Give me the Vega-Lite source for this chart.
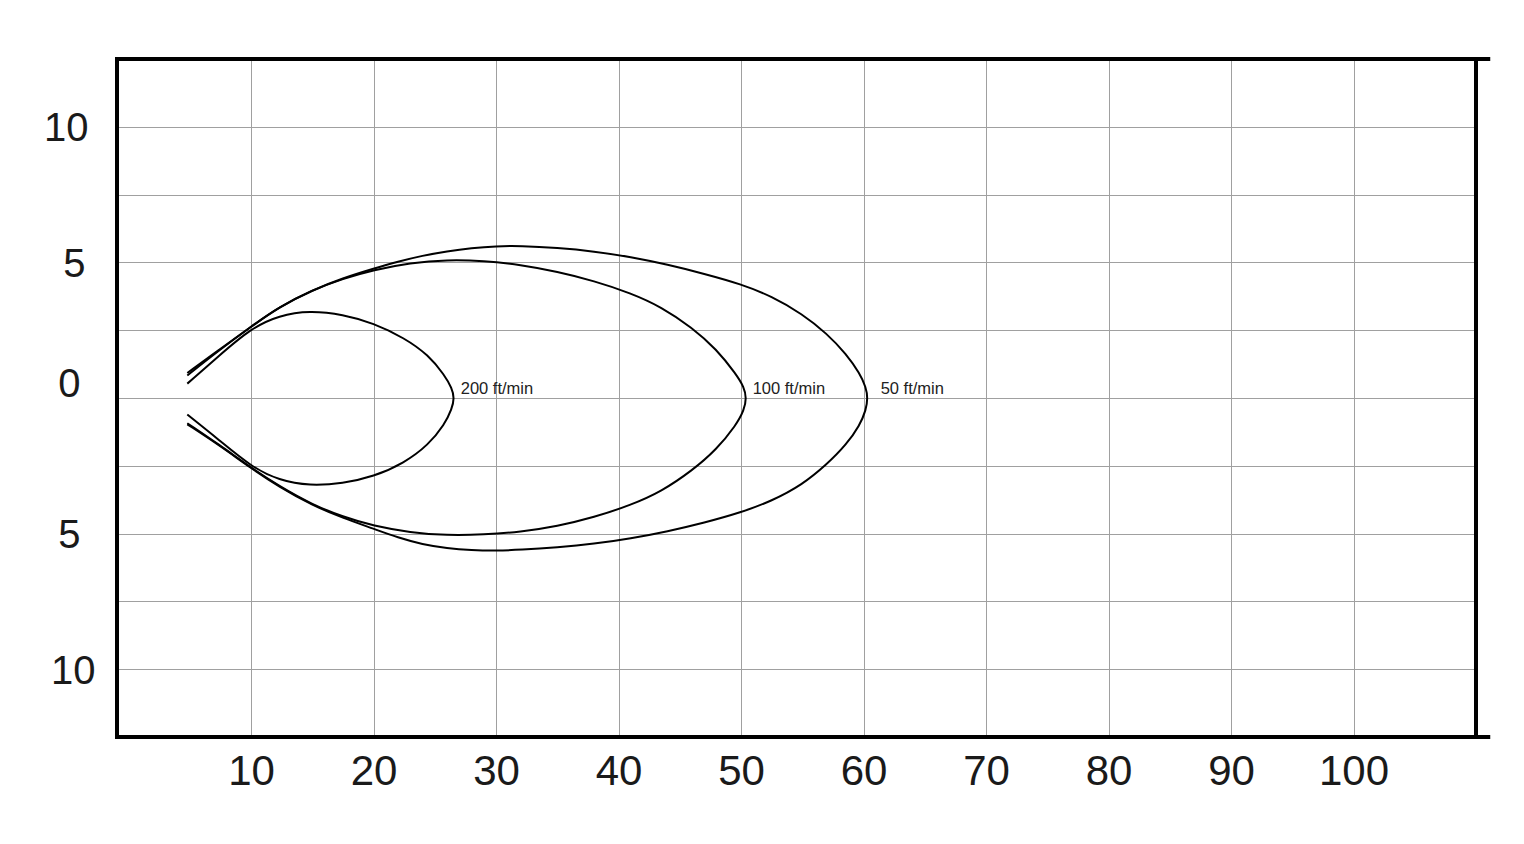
{
  "$schema": "https://vega.github.io/schema/vega-lite/v6.json",
  "width": 1359,
  "height": 678,
  "autosize": "none",
  "padding": {"left": 117, "top": 59, "right": 48, "bottom": 107},
  "background": "white",
  "config": {"view": {"stroke": null}},
  "datasets": {
    "curves": [
      {"curve": "200", "i": 0, "x": 4.8, "y": 0.53},
      {"curve": "200", "i": 1, "x": 7.4, "y": 1.56},
      {"curve": "200", "i": 2, "x": 10, "y": 2.57},
      {"curve": "200", "i": 3, "x": 12.3, "y": 3.05},
      {"curve": "200", "i": 4, "x": 14.8, "y": 3.22},
      {"curve": "200", "i": 5, "x": 17.5, "y": 3.08},
      {"curve": "200", "i": 6, "x": 20, "y": 2.76},
      {"curve": "200", "i": 7, "x": 22.5, "y": 2.22},
      {"curve": "200", "i": 8, "x": 24.5, "y": 1.58},
      {"curve": "200", "i": 9, "x": 25.8, "y": 0.84},
      {"curve": "200", "i": 10, "x": 26.4, "y": 0.36},
      {"curve": "200", "i": 11, "x": 26.6, "y": 0},
      {"curve": "200", "i": 12, "x": 26.4, "y": -0.4},
      {"curve": "200", "i": 13, "x": 25.8, "y": -0.98},
      {"curve": "200", "i": 14, "x": 24.5, "y": -1.72},
      {"curve": "200", "i": 15, "x": 22.5, "y": -2.4},
      {"curve": "200", "i": 16, "x": 20, "y": -2.9},
      {"curve": "200", "i": 17, "x": 17.5, "y": -3.15},
      {"curve": "200", "i": 18, "x": 14.8, "y": -3.24},
      {"curve": "200", "i": 19, "x": 12.3, "y": -3.04},
      {"curve": "200", "i": 20, "x": 10, "y": -2.53},
      {"curve": "200", "i": 21, "x": 7.4, "y": -1.55},
      {"curve": "200", "i": 22, "x": 4.8, "y": -0.61},

      {"curve": "100", "i": 0, "x": 4.8, "y": 0.92},
      {"curve": "100", "i": 1, "x": 7.4, "y": 1.78},
      {"curve": "100", "i": 2, "x": 10, "y": 2.63},
      {"curve": "100", "i": 3, "x": 12.3, "y": 3.36},
      {"curve": "100", "i": 4, "x": 15, "y": 3.98},
      {"curve": "100", "i": 5, "x": 17.5, "y": 4.4},
      {"curve": "100", "i": 6, "x": 20, "y": 4.72},
      {"curve": "100", "i": 7, "x": 23, "y": 4.98},
      {"curve": "100", "i": 8, "x": 26, "y": 5.1},
      {"curve": "100", "i": 9, "x": 29, "y": 5.06},
      {"curve": "100", "i": 10, "x": 32, "y": 4.91},
      {"curve": "100", "i": 11, "x": 35, "y": 4.66},
      {"curve": "100", "i": 12, "x": 38, "y": 4.32},
      {"curve": "100", "i": 13, "x": 41, "y": 3.87},
      {"curve": "100", "i": 14, "x": 43.5, "y": 3.36},
      {"curve": "100", "i": 15, "x": 46, "y": 2.6},
      {"curve": "100", "i": 16, "x": 48, "y": 1.8},
      {"curve": "100", "i": 17, "x": 49.6, "y": 0.88},
      {"curve": "100", "i": 18, "x": 50.25, "y": 0.4},
      {"curve": "100", "i": 19, "x": 50.45, "y": 0},
      {"curve": "100", "i": 20, "x": 50.25, "y": -0.45},
      {"curve": "100", "i": 21, "x": 49.6, "y": -1.0},
      {"curve": "100", "i": 22, "x": 48, "y": -1.9},
      {"curve": "100", "i": 23, "x": 46, "y": -2.68},
      {"curve": "100", "i": 24, "x": 43.5, "y": -3.45},
      {"curve": "100", "i": 25, "x": 41, "y": -3.95},
      {"curve": "100", "i": 26, "x": 38, "y": -4.4},
      {"curve": "100", "i": 27, "x": 35, "y": -4.73},
      {"curve": "100", "i": 28, "x": 32, "y": -4.94},
      {"curve": "100", "i": 29, "x": 29, "y": -5.04},
      {"curve": "100", "i": 30, "x": 26, "y": -5.07},
      {"curve": "100", "i": 31, "x": 23, "y": -4.96},
      {"curve": "100", "i": 32, "x": 20, "y": -4.72},
      {"curve": "100", "i": 33, "x": 17.5, "y": -4.38},
      {"curve": "100", "i": 34, "x": 15, "y": -3.93},
      {"curve": "100", "i": 35, "x": 12.3, "y": -3.25},
      {"curve": "100", "i": 36, "x": 10, "y": -2.57},
      {"curve": "100", "i": 37, "x": 7.4, "y": -1.72},
      {"curve": "100", "i": 38, "x": 4.8, "y": -0.93},

      {"curve": "50", "i": 0, "x": 4.8, "y": 0.83},
      {"curve": "50", "i": 1, "x": 7.4, "y": 1.76},
      {"curve": "50", "i": 2, "x": 10, "y": 2.63},
      {"curve": "50", "i": 3, "x": 12.3, "y": 3.36},
      {"curve": "50", "i": 4, "x": 15, "y": 3.98},
      {"curve": "50", "i": 5, "x": 17.5, "y": 4.42},
      {"curve": "50", "i": 6, "x": 20, "y": 4.77},
      {"curve": "50", "i": 7, "x": 22, "y": 5.03},
      {"curve": "50", "i": 8, "x": 24, "y": 5.25},
      {"curve": "50", "i": 9, "x": 26, "y": 5.41},
      {"curve": "50", "i": 10, "x": 28, "y": 5.53},
      {"curve": "50", "i": 11, "x": 30, "y": 5.6},
      {"curve": "50", "i": 12, "x": 32, "y": 5.61},
      {"curve": "50", "i": 13, "x": 35, "y": 5.54},
      {"curve": "50", "i": 14, "x": 38, "y": 5.41},
      {"curve": "50", "i": 15, "x": 41, "y": 5.2},
      {"curve": "50", "i": 16, "x": 44, "y": 4.92},
      {"curve": "50", "i": 17, "x": 47, "y": 4.58},
      {"curve": "50", "i": 18, "x": 50, "y": 4.2},
      {"curve": "50", "i": 19, "x": 52.5, "y": 3.75},
      {"curve": "50", "i": 20, "x": 55, "y": 3.1},
      {"curve": "50", "i": 21, "x": 57, "y": 2.38},
      {"curve": "50", "i": 22, "x": 58.6, "y": 1.62},
      {"curve": "50", "i": 23, "x": 59.7, "y": 0.9},
      {"curve": "50", "i": 24, "x": 60.2, "y": 0.4},
      {"curve": "50", "i": 25, "x": 60.35, "y": 0},
      {"curve": "50", "i": 26, "x": 60.2, "y": -0.45},
      {"curve": "50", "i": 27, "x": 59.7, "y": -1.0},
      {"curve": "50", "i": 28, "x": 58.6, "y": -1.72},
      {"curve": "50", "i": 29, "x": 57, "y": -2.45},
      {"curve": "50", "i": 30, "x": 55, "y": -3.2},
      {"curve": "50", "i": 31, "x": 52.5, "y": -3.8},
      {"curve": "50", "i": 32, "x": 50, "y": -4.22},
      {"curve": "50", "i": 33, "x": 47, "y": -4.6},
      {"curve": "50", "i": 34, "x": 44, "y": -4.92},
      {"curve": "50", "i": 35, "x": 41, "y": -5.18},
      {"curve": "50", "i": 36, "x": 38, "y": -5.38},
      {"curve": "50", "i": 37, "x": 35, "y": -5.51},
      {"curve": "50", "i": 38, "x": 32, "y": -5.6},
      {"curve": "50", "i": 39, "x": 30, "y": -5.63},
      {"curve": "50", "i": 40, "x": 28, "y": -5.61},
      {"curve": "50", "i": 41, "x": 26, "y": -5.54},
      {"curve": "50", "i": 42, "x": 24, "y": -5.4},
      {"curve": "50", "i": 43, "x": 22, "y": -5.15},
      {"curve": "50", "i": 44, "x": 20, "y": -4.82},
      {"curve": "50", "i": 45, "x": 17.5, "y": -4.42},
      {"curve": "50", "i": 46, "x": 15, "y": -3.96},
      {"curve": "50", "i": 47, "x": 12.3, "y": -3.28},
      {"curve": "50", "i": 48, "x": 10, "y": -2.59},
      {"curve": "50", "i": 49, "x": 7.4, "y": -1.74},
      {"curve": "50", "i": 50, "x": 4.8, "y": -0.97}
    ],
    "labels": [
      {"label": "200 ft/min", "x": 27.12, "y": 0.33},
      {"label": "100 ft/min", "x": 50.95, "y": 0.33},
      {"label": "50 ft/min", "x": 61.4, "y": 0.33}
    ],
    "frameH": [
      {"x": -0.94, "x2": 111, "y": 12.5},
      {"x": -0.94, "x2": 111, "y": -12.5}
    ],
    "frameV": [
      {"x": -0.94, "y": -12.5, "y2": 12.5},
      {"x": 110, "y": -12.5, "y2": 12.5}
    ]
  },
  "layer": [
    {
      "data": {"name": "curves"},
      "mark": {"type": "line", "interpolate": "basis", "color": "black", "strokeWidth": 2},
      "encoding": {
        "x": {
          "field": "x", "type": "quantitative",
          "scale": {"domain": [-0.94, 110], "nice": false, "zero": false},
          "axis": {
            "title": null,
            "values": [10, 20, 30, 40, 50, 60, 70, 80, 90, 100],
            "domain": false, "ticks": false, "tickSize": 0,
            "grid": true, "gridColor": "#a0a0a0", "gridWidth": 1,
            "labelFont": "Liberation Sans, Arial, sans-serif",
            "labelFontSize": 42, "labelColor": "#1a1a1a",
            "labelPadding": 14, "labelBaseline": "top", "labelAlign": "center",
            "labelFlush": false, "labelOverlap": false
          }
        },
        "y": {
          "field": "y", "type": "quantitative",
          "scale": {"domain": [-12.5, 12.5], "nice": false, "zero": false},
          "axis": {
            "title": null,
            "values": [-10, -7.5, -5, -2.5, 0, 2.5, 5, 7.5, 10],
            "labelExpr": "datum.value % 5 == 0 ? abs(datum.value) : ''",
            "domain": false, "ticks": false, "tickSize": 0,
            "grid": true, "gridColor": "#a0a0a0", "gridWidth": 1,
            "labelFont": "Liberation Sans, Arial, sans-serif",
            "labelFontSize": 40, "labelColor": "#1a1a1a",
            "labelPadding": {
              "condition": [
                {"test": "datum.value == 0", "value": 37},
                {"test": "datum.value == 5", "value": 32},
                {"test": "datum.value == -5", "value": 37},
                {"test": "datum.value == -10", "value": 22}
              ],
              "value": 29
            },
            "labelAlign": "right", "labelBaseline": "middle",
            "labelOffset": {"condition": {"test": "datum.value == 0", "value": -14}, "value": 2},
            "labelFlush": false, "labelOverlap": false
          }
        },
        "detail": {"field": "curve"},
        "order": {"field": "i", "type": "quantitative"}
      }
    },
    {
      "data": {"name": "labels"},
      "mark": {"type": "text", "align": "left", "baseline": "middle", "font": "Liberation Sans, Arial, sans-serif", "fontSize": 16.5, "color": "#222222"},
      "encoding": {
        "x": {"field": "x", "type": "quantitative"},
        "y": {"field": "y", "type": "quantitative"},
        "text": {"field": "label"}
      }
    },
    {
      "data": {"name": "frameH"},
      "mark": {"type": "rule", "color": "black", "strokeWidth": 4, "strokeCap": "square"},
      "encoding": {
        "x": {"field": "x", "type": "quantitative"},
        "x2": {"field": "x2"},
        "y": {"field": "y", "type": "quantitative"}
      }
    },
    {
      "data": {"name": "frameV"},
      "mark": {"type": "rule", "color": "black", "strokeWidth": 4, "strokeCap": "square"},
      "encoding": {
        "x": {"field": "x", "type": "quantitative"},
        "y": {"field": "y", "type": "quantitative"},
        "y2": {"field": "y2"}
      }
    }
  ]
}
